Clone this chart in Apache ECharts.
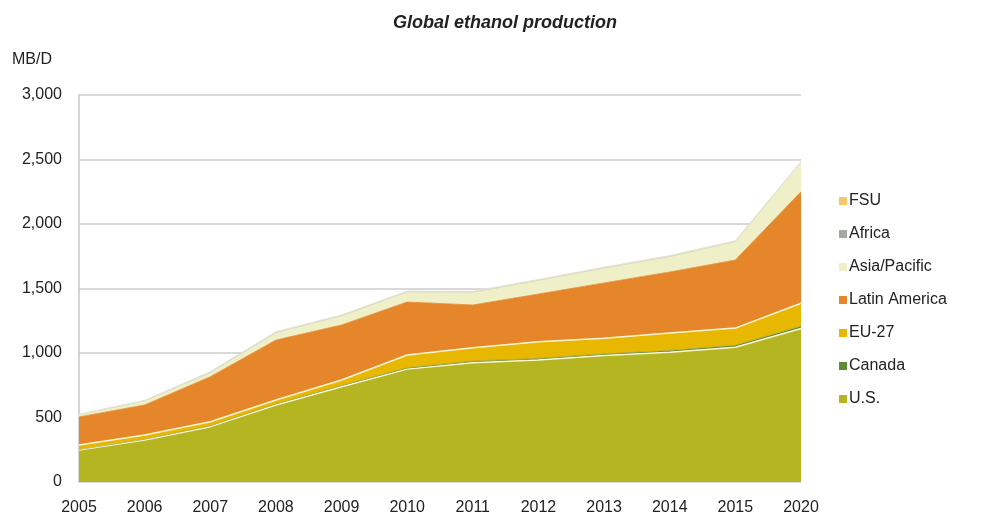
<!DOCTYPE html>
<html><head><meta charset="utf-8">
<script src="https://cdn.jsdelivr.net/npm/echarts@6/dist/echarts.min.js"></script>
<style>html,body{margin:0;padding:0;background:#fff}#c{width:992px;height:521px}</style>
</head><body><div id="c"></div>
<script>
var years = ['2005','2006','2007','2008','2009','2010','2011','2012','2013','2014','2015','2020'];
var us       = [248, 326, 429, 597, 739, 875, 925, 946, 980, 1005, 1045, 1190];
var canada   = [3, 5, 6, 8, 9, 10, 12, 12, 13, 14, 15, 18];
var eu27     = [36, 33, 32, 31, 43, 99, 103, 130, 122, 136, 133, 178];
var latam    = [217, 233, 349, 464, 426, 411, 332, 369, 428, 473, 528, 864];
var asiaPac  = [16, 29, 29, 55, 68, 75, 96, 103, 112, 117, 139, 223];
var africa   = [3, 4, 5, 5, 5, 5, 5, 5, 5, 5, 5, 6];
var fsu      = [2, 3, 5, 5, 5, 5, 5, 5, 5, 5, 5, 6];
var yTicks = [0, 500, 1000, 1500, 2000, 2500, 3000];

var names  = ['U.S.','Canada','EU-27','Latin America','Asia/Pacific','Africa','FSU'];
var values = [us, canada, eu27, latam, asiaPac, africa, fsu];
var colors = ['#b4b521','#5e8a36','#e8b700','#e5862b','#efefc8','#a3aaa3','#f5c76a'];
var lineCols = ['#fff6d6','#7f9f55','#fff6d6','#e5862b','#efefc8','#d8dccc','#e4e6d8'];
var lineW = [1.5, 0.6, 1.5, 0.8, 0.8, 0.8, 1];

var series = names.map(function(n, i){
  return {
    name: n, type: 'line', stack: 'total', data: values[i],
    symbol: 'none', smooth: false,
    lineStyle: {width: lineW[i], color: lineCols[i]},
    areaStyle: {color: colors[i], opacity: 1},
    itemStyle: {color: colors[i]},
    emphasis: {disabled: true}
  };
});

var chart = echarts.init(document.getElementById('c'));
chart.setOption({
  animation: false,
  backgroundColor: '#fff',
  title: {
    text: 'Global ethanol production', left: 500, top: 9, textAlign: 'center',
    textStyle: {fontFamily: 'Liberation Sans', fontSize: 18, fontWeight: 'bold', fontStyle: 'italic', color: '#222'}
  },
  graphic: [{type: 'text', left: 12, top: 52, style: {text: 'MB/D', font: '16px "Liberation Sans"', fill: '#222'}}],
  legend: {
    orient: 'vertical', left: 834, top: 188, itemGap: 17, itemWidth: 8, itemHeight: 8,
    icon: 'rect',
    data: ['FSU','Africa','Asia/Pacific','Latin America','EU-27','Canada','U.S.'],
    textStyle: {fontFamily: 'Liberation Sans', fontSize: 16, color: '#222', padding: [0,0,0,-3]}
  },
  grid: {left: 79, right: 191, top: 95, bottom: 39, containLabel: false},
  xAxis: {
    type: 'category', data: years, boundaryGap: false,
    axisLine: {show: false}, axisTick: {show: false},
    axisLabel: {fontFamily: 'Liberation Sans', fontSize: 16, color: '#222', margin: 18}
  },
  yAxis: {
    type: 'value', min: 0, max: 3000, interval: 500,
    axisLine: {show: true, lineStyle: {color: '#c8c8c8', width: 1.5}},
    axisTick: {show: false},
    splitLine: {lineStyle: {color: '#cccccc', width: 1.5}},
    axisLabel: {fontFamily: 'Liberation Sans', fontSize: 16, color: '#222', margin: 17,
      formatter: function(v){ return yTicks.indexOf(v) >= 0 ? v.toLocaleString('en-US') : ''; }}
  },
  series: series
});
</script></body></html>
